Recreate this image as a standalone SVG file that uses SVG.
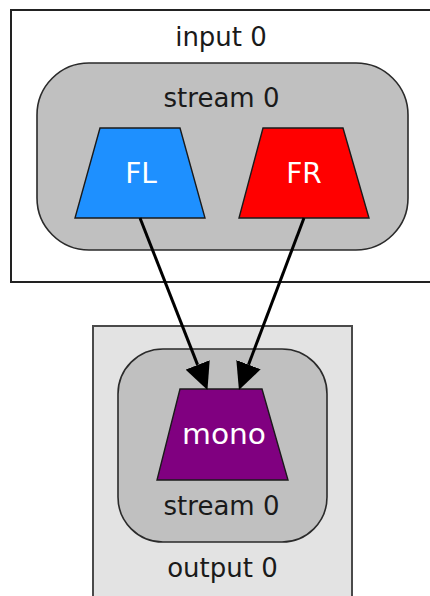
<svg xmlns="http://www.w3.org/2000/svg" width="430" height="596" viewBox="0 0 430 596">
  <style>
    .label { font-family: "DejaVu Sans", "Liberation Sans", sans-serif; font-size: 26px; text-anchor: middle; fill: #1a1a1a; }
    .chan { font-family: "DejaVu Sans", "Liberation Sans", sans-serif; font-size: 28px; text-anchor: middle; fill: #ffffff; }
    .outer { stroke: #222; stroke-width: 2; }
    .stream { fill: #c0c0c0; stroke: #2a2a2a; stroke-width: 1.6; }
    .trap { stroke: #1a1a1a; stroke-width: 1.4; }
    .edge { stroke: #000; stroke-width: 3; fill: none; }
  </style>
  <defs>
    <marker id="arrow" markerUnits="userSpaceOnUse" viewBox="0 0 27 26" markerWidth="27" markerHeight="26" refX="0" refY="13" orient="auto">
      <path d="M0,0 L27,13 L0,26 z" fill="#000"/>
    </marker>
  </defs>

  <rect width="430" height="596" fill="#ffffff"/>

  <!-- input cluster -->
  <g id="input0">
    <rect class="outer" x="11" y="10" width="440" height="272" fill="#ffffff"/>
    <text class="label" x="221" y="46">input 0</text>
    <g id="input0-stream0">
      <rect class="stream" x="37" y="63" width="371" height="187" rx="52" ry="52"/>
      <text class="label" x="221.5" y="107">stream 0</text>
    </g>
  </g>

  <!-- output cluster -->
  <g id="output0">
    <rect x="93" y="326" width="259" height="290" fill="#e3e3e3" stroke="#4a4a4a" stroke-width="2"/>
    <g id="output0-stream0">
      <rect class="stream" x="118" y="349" width="209" height="193" rx="45" ry="45"/>
      <text class="label" x="221.5" y="515">stream 0</text>
    </g>
    <text class="label" x="222.5" y="577">output 0</text>
  </g>

  <!-- channel nodes -->
  <g id="FL">
    <polygon class="trap" points="100,128 180,128 205,218 75,218" fill="#1e90ff"/>
    <text class="chan" x="141" y="183">FL</text>
  </g>
  <g id="FR">
    <polygon class="trap" points="263,128 343,128 369,218 239,218" fill="#ff0000"/>
    <text class="chan" x="304" y="183">FR</text>
  </g>
  <g id="mono">
    <polygon class="trap" points="180,389 262,389 288,480 157,480" fill="#800080"/>
    <text class="chan" x="224" y="444" textLength="84" lengthAdjust="spacingAndGlyphs" fill="#f8e8f8">mono</text>
  </g>

  <!-- connectors -->
  <g id="edges">
    <line class="edge" x1="140" y1="218" x2="197.6" y2="364.9" marker-end="url(#arrow)"/>
    <line class="edge" x1="304" y1="218" x2="248.5" y2="364.7" marker-end="url(#arrow)"/>
  </g>
</svg>
